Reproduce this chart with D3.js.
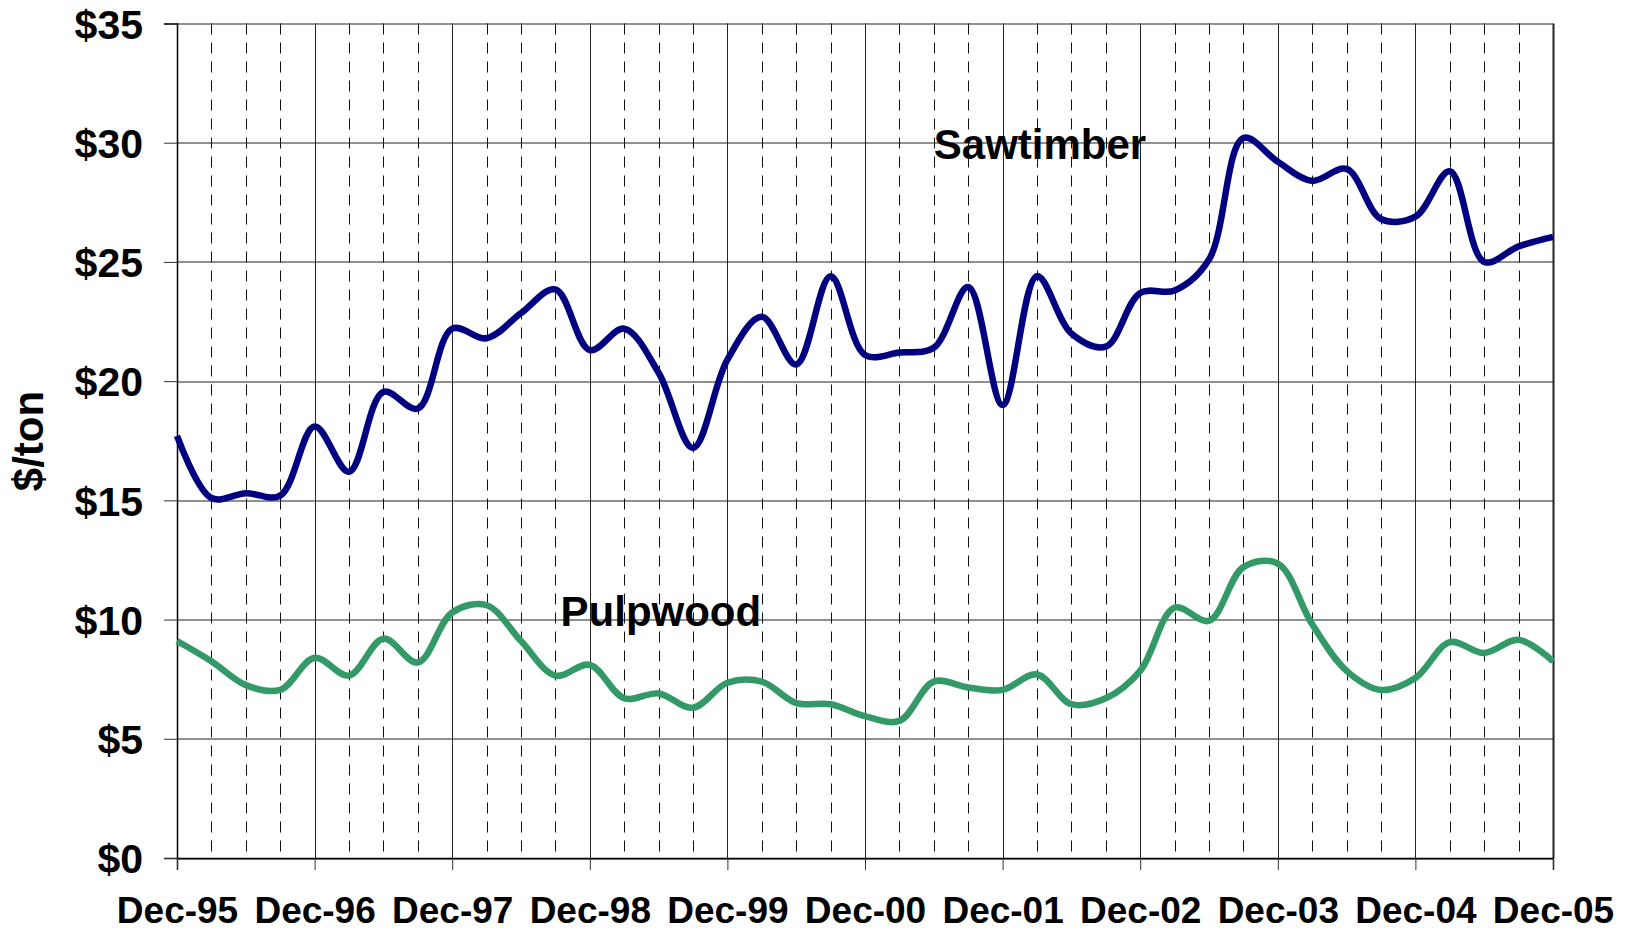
<!DOCTYPE html>
<html>
<head>
<meta charset="utf-8">
<script src="https://cdn.jsdelivr.net/npm/d3@7"></script>
<style>
  html, body { margin: 0; padding: 0; background: #fff; }
  text { font-family: "Liberation Sans", Arial, sans-serif; font-weight: bold; fill: #000; }
</style>
</head>
<body>
<div id="chart"></div>
<script>
// quarterly prices, Dec-95 .. Dec-05 (41 quarters)
const yearLabels = ['Dec-95', 'Dec-96', 'Dec-97', 'Dec-98', 'Dec-99', 'Dec-00',
                    'Dec-01', 'Dec-02', 'Dec-03', 'Dec-04', 'Dec-05'];

const sawtimber = [17.7, 15.1, 15.3, 15.2, 18.1, 16.2, 19.55, 18.85,
                   22.2, 21.8, 22.85, 23.85, 21.3, 22.2, 20.35, 17.2,
                   20.9, 22.7, 20.7, 24.4, 21.1, 21.2, 21.4, 23.95,
                   19.0, 24.4, 22.0, 21.45, 23.7, 23.8, 25.1, 30.2,
                   29.2, 28.4, 28.9, 26.8, 26.9, 28.8, 25.0, 25.65, 26.05];

const pulpwood = [9.1, 8.25, 7.25, 7.05, 8.4, 7.65, 9.2, 8.2,
                  10.3, 10.6, 9.1, 7.65, 8.1, 6.7, 6.9, 6.3,
                  7.35, 7.4, 6.5, 6.45, 5.95, 5.75, 7.4, 7.15,
                  7.05, 7.7, 6.45, 6.7, 7.85, 10.5, 9.95, 12.2,
                  12.35, 9.8, 7.85, 7.05, 7.55, 9.05, 8.6, 9.15, 8.25];

const yTicks = [0, 5, 10, 15, 20, 25, 30, 35];

// series label anchors (quarter index, $/ton)
const seriesLabels = [
    {name: 'Sawtimber', q: 22, v: 29.3},
    {name: 'Pulpwood', q: 11.15, v: 9.74}
];

const drawChart = () => {
    const margin = {top: 23.5, right: 78, bottom: 73, left: 177};
    const fullWidth = 1631;
    const fullHeight = 931;
    const width = fullWidth - margin.left - margin.right;
    const height = fullHeight - margin.top - margin.bottom;

    const svg = d3.select('#chart')
        .append('svg')
            .attr('width', fullWidth)
            .attr('height', fullHeight)
        .append('g')
            .attr('transform', `translate(${margin.left},${margin.top})`);

    const nQ = sawtimber.length - 1;
    const x = d3.scaleLinear().domain([0, nQ]).range([0, width]);
    const y = d3.scaleLinear().domain([0, 35]).range([height, 0]);

    const quarters = d3.range(0, nQ + 1);
    const yearQ = quarters.filter(q => q % 4 === 0);

    // horizontal gridlines
    svg.append('g')
        .selectAll('line')
        .data(yTicks)
        .join('line')
            .attr('x1', 0)
            .attr('x2', width)
            .attr('y1', d => Math.round(y(d)) + 0.5)
            .attr('y2', d => Math.round(y(d)) + 0.5)
            .attr('stroke', '#222')
            .attr('stroke-width', 1);

    // quarterly dashed lines
    svg.append('g')
        .selectAll('line')
        .data(quarters.filter(q => q % 4 !== 0))
        .join('line')
            .attr('x1', d => Math.round(x(d)) + 0.5)
            .attr('x2', d => Math.round(x(d)) + 0.5)
            .attr('y1', 0)
            .attr('y2', height)
            .attr('stroke', '#111')
            .attr('stroke-width', 1)
            .attr('stroke-dasharray', '11,8');

    // yearly solid lines
    svg.append('g')
        .selectAll('line')
        .data(yearQ)
        .join('line')
            .attr('x1', d => Math.round(x(d)) + 0.5)
            .attr('x2', d => Math.round(x(d)) + 0.5)
            .attr('y1', 0)
            .attr('y2', height)
            .attr('stroke', '#222')
            .attr('stroke-width', d => d === nQ ? 2 : 1);

    // y axis
    const yAxis = svg.append('g')
        .call(d3.axisLeft(y).tickValues(yTicks).tickSize(13).tickPadding(21)
            .tickFormat(d => '$' + d));
    yAxis.select('.domain').attr('stroke', '#000').attr('stroke-width', 1.5);
    yAxis.selectAll('.tick line').attr('stroke', '#333');
    yAxis.selectAll('.tick text')
        .style('font-size', '41px')
        .attr('dy', '0.36em');

    // x axis
    const xAxis = svg.append('g')
        .attr('transform', `translate(0,${height})`)
        .call(d3.axisBottom(x).tickValues(yearQ).tickSize(12).tickPadding(0)
            .tickFormat((d, i) => yearLabels[i]));
    xAxis.select('.domain').attr('stroke', '#000').attr('stroke-width', 1.5);
    xAxis.selectAll('.tick line').attr('stroke', '#333');
    xAxis.selectAll('.tick text')
        .style('font-size', '37px')
        .attr('y', 65)
        .attr('dy', 0);

    // y axis title
    svg.append('text')
        .attr('transform', `translate(${43 - margin.left},${441 - margin.top}) rotate(-90)`)
        .attr('text-anchor', 'middle')
        .style('font-size', '42px')
        .text('$/ton');

    // series lines
    const line = d3.line()
        .x((d, i) => x(i))
        .y(d => y(d))
        .curve(d3.curveCatmullRom.alpha(0.5));

    svg.append('path')
        .datum(pulpwood)
        .attr('fill', 'none')
        .attr('stroke', '#339966')
        .attr('stroke-width', 6.5)
        .attr('stroke-linejoin', 'round')
        .attr('d', line);

    svg.append('path')
        .datum(sawtimber)
        .attr('fill', 'none')
        .attr('stroke', '#000080')
        .attr('stroke-width', 6.5)
        .attr('stroke-linejoin', 'round')
        .attr('d', line);

    // series labels
    svg.append('g')
        .selectAll('text')
        .data(seriesLabels)
        .join('text')
            .attr('x', d => x(d.q))
            .attr('y', d => y(d.v))
            .style('font-size', '42px')
            .text(d => d.name);
};

drawChart();
</script>
</body>
</html>
